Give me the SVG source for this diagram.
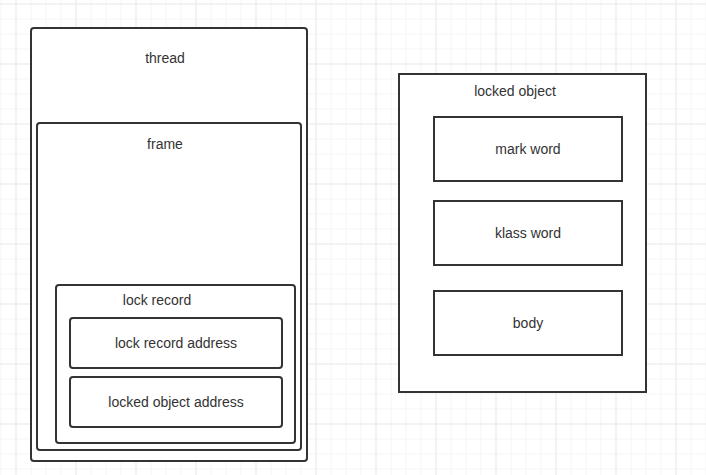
<svg xmlns="http://www.w3.org/2000/svg" width="706" height="475" viewBox="0 0 706 475">
<defs>
<pattern id="gridMinor" width="15" height="15" patternUnits="userSpaceOnUse" x="0.5" y="3.5">
<path d="M15 0H0V15" fill="none" stroke="#ebebeb" stroke-width="1"/>
</pattern>
<pattern id="gridMajor" width="60" height="60" patternUnits="userSpaceOnUse" x="15.5" y="3.5">
<path d="M60 0H0V60" fill="none" stroke="#e0e0e0" stroke-width="1"/>
</pattern>
</defs>
<style>
.box{fill:#fff;stroke:#333;stroke-width:2}
.lbl{font-family:"Liberation Sans",Arial,sans-serif;font-size:14px;fill:#333;text-anchor:middle}
</style>
<rect width="706" height="475" fill="#fff"/>
<rect width="706" height="475" fill="url(#gridMinor)"/>
<rect width="706" height="475" fill="url(#gridMajor)"/>
<g id="thread">
<rect class="box" x="31" y="28" width="276" height="433" rx="3"/>
<text class="lbl" x="165" y="63">thread</text>
</g>
<g id="frame">
<rect class="box" x="37" y="123" width="264" height="327" rx="3"/>
<text class="lbl" x="165" y="149">frame</text>
</g>
<g id="lock-record">
<rect class="box" x="56" y="285" width="239" height="158" rx="3"/>
<text class="lbl" x="157" y="305">lock record</text>
</g>
<g id="lock-record-address">
<rect class="box" x="70" y="318" width="212" height="50" rx="3"/>
<text class="lbl" x="176" y="348">lock record address</text>
</g>
<g id="locked-object-address">
<rect class="box" x="70" y="377" width="212" height="50" rx="3"/>
<text class="lbl" x="176" y="407">locked object address</text>
</g>
<g id="locked-object">
<rect class="box" x="399" y="74" width="247" height="318"/>
<text class="lbl" x="515" y="96">locked object</text>
</g>
<g id="mark-word">
<rect class="box" x="434" y="117" width="188" height="64"/>
<text class="lbl" x="528" y="154">mark word</text>
</g>
<g id="klass-word">
<rect class="box" x="434" y="201" width="188" height="64"/>
<text class="lbl" x="528" y="238">klass word</text>
</g>
<g id="body">
<rect class="box" x="434" y="291" width="188" height="64"/>
<text class="lbl" x="528" y="328">body</text>
</g>
<g id="connectors"></g>
</svg>
